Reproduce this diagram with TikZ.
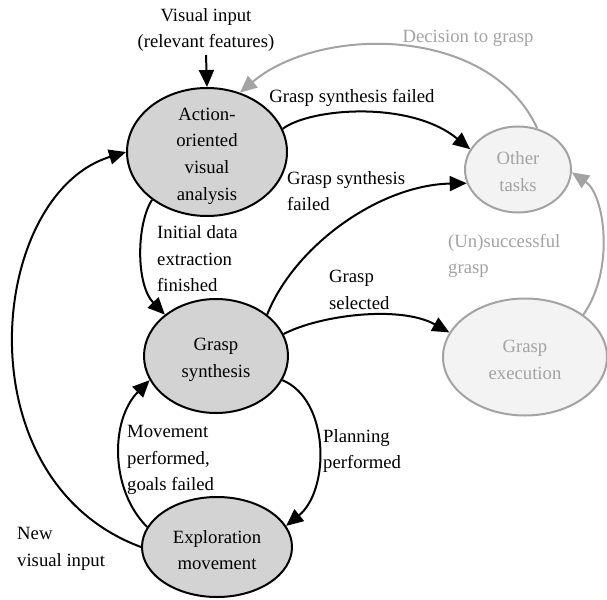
\documentclass[tikz,border=0pt]{standalone}
\usepackage{fontspec}
\setmainfont{Liberation Serif}
\usetikzlibrary{shapes.geometric,arrows.meta}
\definecolor{dfill}{HTML}{D3D3D3}
\definecolor{lfill}{HTML}{F3F3F3}
\definecolor{gline}{HTML}{A3A3A3}
\begin{document}
\begin{tikzpicture}[x=1pt,y=-1pt,
  every node/.style={font=\fontsize{18.7pt}{26.6pt}\selectfont, inner sep=0pt},
  darkell/.style={ellipse, draw=black, line width=2pt, fill=dfill},
  lightell/.style={ellipse, draw=gline, line width=2pt, fill=lfill},
  lab/.style={anchor=west, align=left},
  glab/.style={anchor=west, align=left, text=gline},
  edge/.style={line width=2pt, draw=black, -{Triangle[length=17pt,width=15pt]}},
  gedge/.style={line width=2pt, draw=gline, -{Triangle[length=17pt,width=15pt]}}
]
\useasboundingbox (0,0) rectangle (607,599);

% states
\node[darkell, minimum width=160pt, minimum height=128pt] (A) at (207,152) {};
\node[align=center] (At) at (207,156) {Action-\\oriented\\visual\\analysis};
\node[darkell, minimum width=144pt, minimum height=114pt] (G) at (216,356) {};
\node[align=center] (Gt) at (216,360) {Grasp\\synthesis};
\node[darkell, minimum width=150pt, minimum height=100pt] (X) at (217,547) {};
\node[align=center] (Xt) at (217,550) {Exploration\\movement};
\node[lightell, minimum width=106pt, minimum height=86pt] (O) at (518,169.5) {};
\node[align=center, text=gline] (Ot) at (518,171.5) {Other\\tasks};
\node[lightell, minimum width=164pt, minimum height=117pt] (E) at (525,357) {};
\node[align=center, text=gline] (Et) at (525,360) {Grasp\\execution};

% visual input
\node[align=center] (vi) at (206,30) {Visual input\\(relevant features)};
\coordinate (vin) at (206,55);
\draw[edge] (vin) -- (A.north);

% edges
\draw[gedge] (O.65) .. controls (490,25) and (320,25) .. (A.61);
\node[anchor=center, text=gline] (l1) at (468,38) {Decision to grasp};

\draw[edge] (A.17) .. controls (310,108) and (410,100) .. (O.157);
\node[anchor=center] (l2) at (352,98) {Grasp synthesis failed};

\draw[edge] (G.39) .. controls (295,245) and (380,185) .. (O.195);
\node[lab] (l3) at (287,191) {Grasp synthesis\\failed};

\draw[edge] (A.221) .. controls (136,225) and (136,285) .. (G.141);
\node[lab] (l4) at (157,259) {Initial data\\extraction\\finished};

\draw[edge] (G.18) .. controls (320,315) and (400,305) .. (E.162);
\node[lab] (l5) at (329,290) {Grasp\\selected};

\draw[gedge] (E.36) .. controls (615,270) and (605,195) .. (O.-3);
\node[glab] (l6) at (448,256) {(Un)successful\\grasp};

\draw[edge] (G.-20) .. controls (330,400) and (330,490) .. (X.17);
\node[lab] (l7) at (323,451) {Planning\\performed};

\draw[edge] (X.164) .. controls (110,490) and (110,420) .. (G.200);
\node[lab] (l8) at (127,460) {Movement\\performed,\\goals failed};

\draw[edge] (X.180) .. controls (-40,480) and (-12,194) .. (A.180);
\node[lab] (l9) at (17,549) {New\\visual input};
\end{tikzpicture}
\end{document}
